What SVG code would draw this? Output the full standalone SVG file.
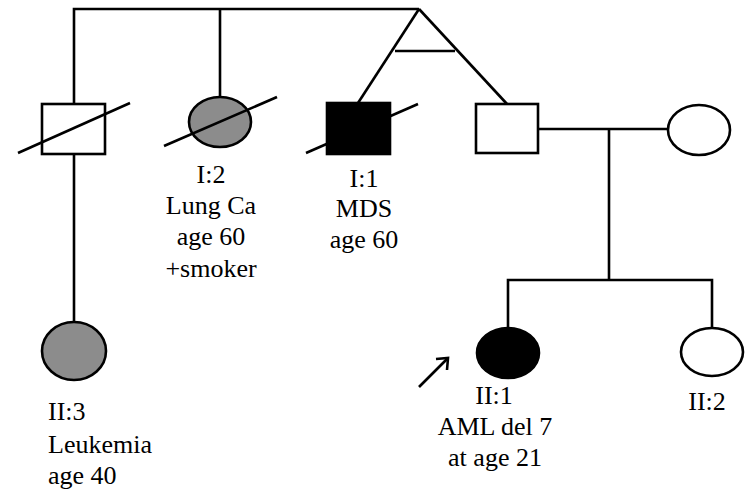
<svg xmlns="http://www.w3.org/2000/svg" width="750" height="493" viewBox="0 0 750 493">
<style>
.ln{stroke:#000;stroke-width:2.6;fill:none;stroke-linecap:butt}
.sym{stroke:#000;stroke-width:2.6}
.t{font-family:"Liberation Serif","Times New Roman",serif;font-size:26px;fill:#000}
.c{text-anchor:middle}
</style>
<rect width="750" height="493" fill="#fff"/>
<g id="connectors">
<polyline class="ln" points="74,104 74,9 419,9"/>
<line class="ln" x1="220" y1="9" x2="220" y2="97"/>
<line class="ln" x1="419" y1="9" x2="358" y2="103"/>
<line class="ln" x1="419" y1="9" x2="507" y2="104"/>
<line class="ln" x1="395" y1="51" x2="455" y2="51"/>
<line class="ln" x1="74" y1="154" x2="74" y2="322"/>
<line class="ln" x1="538" y1="129" x2="668" y2="129"/>
<line class="ln" x1="609" y1="129" x2="609" y2="280"/>
<polyline class="ln" points="508,328 508,280 712,280 712,329"/>
<line class="ln" x1="419" y1="387" x2="447" y2="359"/>
<polyline class="ln" points="436,359 448,358 447,370"/>
</g>
<g id="node-I3-male">
<rect class="sym" x="42" y="104" width="63" height="50" fill="#fff"/>
<line class="ln" x1="18" y1="153" x2="130" y2="103"/>
</g>
<g id="node-I2">
<ellipse class="sym" cx="220" cy="122" rx="31" ry="25" fill="#8c8c8c"/>
<line class="ln" x1="164" y1="146" x2="277" y2="97"/>
<text class="t c" x="211" y="183">I:2</text>
<text class="t c" x="211" y="214">Lung Ca</text>
<text class="t c" x="211" y="245">age 60</text>
<text class="t c" x="211" y="277">+smoker</text>
</g>
<g id="node-I1">
<rect class="sym" x="327" y="103" width="63" height="51" fill="#000"/>
<line class="ln" x1="306" y1="153" x2="418" y2="104"/>
<text class="t c" x="364" y="187">I:1</text>
<text class="t c" x="364" y="217">MDS</text>
<text class="t c" x="364" y="248">age 60</text>
</g>
<g id="node-father">
<rect class="sym" x="476" y="104" width="62" height="49" fill="#fff"/>
</g>
<g id="node-mother">
<ellipse class="sym" cx="699" cy="130" rx="31" ry="25" fill="#fff"/>
</g>
<g id="node-II3">
<ellipse class="sym" cx="74" cy="351" rx="32" ry="29" fill="#8c8c8c"/>
<text class="t" x="48" y="420">II:3</text>
<text class="t" x="48" y="453">Leukemia</text>
<text class="t" x="48" y="484">age 40</text>
</g>
<g id="node-II1">
<ellipse class="sym" cx="508" cy="353" rx="31" ry="25" fill="#000"/>
<text class="t c" x="494" y="404">II:1</text>
<text class="t c" x="495" y="435">AML del 7</text>
<text class="t c" x="495" y="466">at age 21</text>
</g>
<g id="node-II2">
<ellipse class="sym" cx="712" cy="352" rx="31" ry="24" fill="#fff"/>
<text class="t c" x="707" y="410">II:2</text>
</g>
</svg>
